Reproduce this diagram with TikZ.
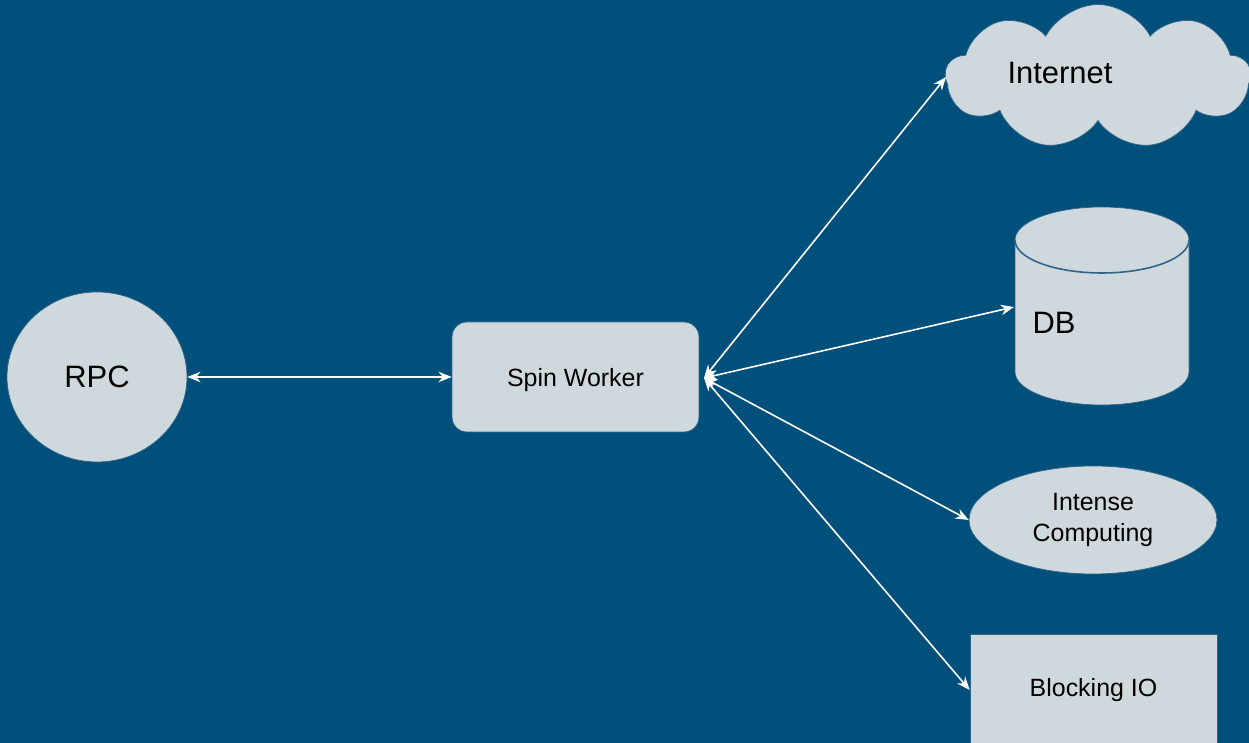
\documentclass[tikz,border=0pt]{standalone}
\usepackage{fontspec}
\setmainfont{Liberation Sans}
\usepackage{xcolor}
\usepackage{tikz}
\usetikzlibrary{arrows.meta,shapes.geometric,shapes.symbols}
\definecolor{bg}{HTML}{01507C}
\definecolor{shape}{HTML}{CFD8DC}
\definecolor{edge}{HTML}{2F6488}
\tikzset{
  box/.style={fill=shape, draw=edge, line width=0.4pt},
  bigtxt/.style={text=black, font=\fontsize{17.6}{21}\selectfont},
  midtxt/.style={text=black, font=\fontsize{14.2}{17.6}\selectfont, align=center},
  link/.style={draw=white, line width=0.9pt, {Stealth[length=7.5pt,width=6pt]}-{Stealth[length=7.5pt,width=6pt]}}
}

\begin{document}
\begin{tikzpicture}[x=0.02cm, y=0.02cm]
  \useasboundingbox (0,0) rectangle (1249,743);
  \fill[bg] (0,0) rectangle (1249,743);

  % left side
  \node[box, ellipse, minimum width=3.6cm, minimum height=3.4cm] (rpc) at (97,366) {};
  \node[bigtxt] (rpctext) at (rpc.center) {RPC};
  \node[box, rounded corners=0.3cm, minimum width=4.94cm, minimum height=2.2cm] (sw) at (575.5,366) {};
  \node[midtxt] (swtext) at ([yshift=-2]sw.center) {Spin Worker};
  \coordinate (hub) at (704,365);

  % right side
  \node[box, cloud, cloud puffs=9, cloud puff arc=125, aspect=2.1,
        minimum width=6.1cm, minimum height=2.9cm] (inet) at (1098,666) {};
  \node[bigtxt] (inettext) at (1060,670) {Internet};

  \fill[box] (1015,503) -- (1015,371)
    arc[start angle=180, end angle=360, x radius=87, y radius=33]
    -- (1189,503)
    arc[start angle=0, end angle=180, x radius=87, y radius=33] -- cycle;
  \draw[edge, line width=0.9pt] (1015,503)
    arc[start angle=180, end angle=360, x radius=87, y radius=33];
  \node[bigtxt] (dbtext) at (1054,420) {DB};
  \coordinate (dbin) at (1014,436);

  \node[box, ellipse, minimum width=4.96cm, minimum height=2.16cm] (ic) at (1093,223) {};
  \node[midtxt] (ictext) at (ic.center) {Intense\\Computing};
  \node[box, minimum width=4.94cm, minimum height=2.24cm] (bio) at (1093.5,53) {};
  \node[midtxt] (biotext) at (bio.center) {Blocking IO};

  % links
  \draw[link] (rpc.east) -- (sw.west);
  \draw[link] (hub) -- (946,666);
  \draw[link] (hub) -- (dbin);
  \draw[link] (hub) -- (ic.west);
  \draw[link] (hub) -- (bio.west);
\end{tikzpicture}
\end{document}
